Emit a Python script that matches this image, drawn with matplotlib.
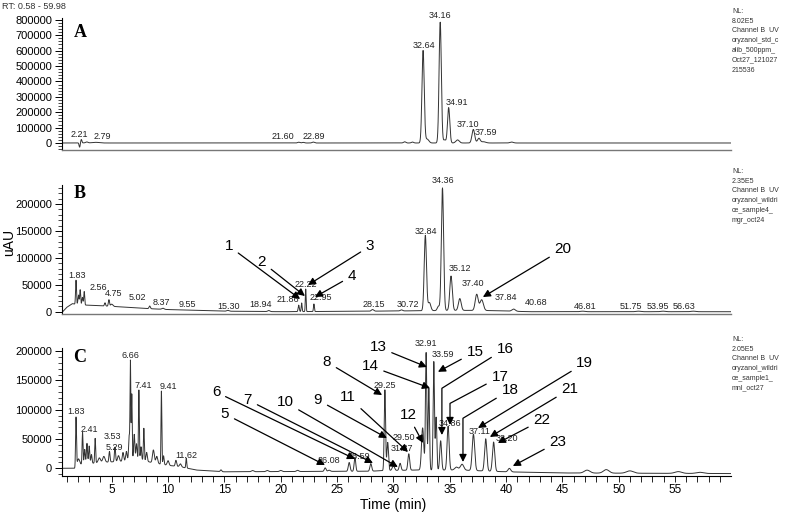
import numpy as np
import matplotlib.pyplot as plt
from matplotlib.ticker import MultipleLocator, FuncFormatter

plt.rcParams['font.family'] = ['Liberation Sans', 'DejaVu Sans']

t = np.linspace(0.58, 59.98, 9000)

# ---- panel A: oryzanol standard ----
a_rt = [2.15, 2.30, 2.79, 3.6, 21.60, 22.0, 22.89, 31.0, 31.7, 32.64, 33.0, 34.16,
        34.55, 34.91, 35.7, 37.10, 37.59, 38.0, 40.5]
a_height = [-28000, 22000, 6000, 4000, 5000, 4000, 6000, 8000, 6000, 600000, 25000, 785000,
            20000, 230000, 20000, 88000, 30000, 8000, 6000]
a_width = [0.05, 0.05, 0.1, 0.3, 0.1, 0.1, 0.1, 0.1, 0.1, 0.1, 0.15, 0.1,
           0.1, 0.1, 0.15, 0.12, 0.12, 0.2, 0.15]
a_base_t = [0.58, 2.0, 4.0, 59.98]
a_base_y = [0, 1000, 0, 0]
a_labels = ['2.21', '2.79', '21.60', '22.89', '32.64', '34.16', '34.91', '37.10', '37.59']
a_label_x = [2.1, 4.2, 20.2, 22.9, 32.7, 34.1, 35.65, 36.6, 38.2]
a_label_y = [52000, 39000, 39000, 39000, 636000, 831000, 266000, 123000, 65000]

# ---- panel B: wild rice sample 4 ----
b_rt = [1.83, 2.05, 2.2, 2.4, 2.56, 4.4, 4.75, 5.0, 8.37, 9.55, 15.30, 18.94, 21.6, 21.86,
        22.22, 22.95, 28.15, 30.72, 32.84, 33.2, 34.0, 34.36, 35.12, 35.9, 37.40, 37.84,
        40.68, 46.81, 51.75, 53.95, 56.63]
b_height = [45000, 18000, 28000, 14000, 25000, 6000, 12000, 4000, 5000, 2000, 1500, 2000, 12000, 16000,
            42000, 14000, 3000, 2000, 140000, 15000, 8000, 228000, 64000, 22000, 30000, 20000,
            4000, 1000, 1000, 1000, 1000]
b_width = [0.04, 0.05, 0.04, 0.05, 0.04, 0.05, 0.05, 0.1, 0.06, 0.1, 0.1, 0.1, 0.05, 0.04,
           0.035, 0.04, 0.1, 0.1, 0.1, 0.12, 0.1, 0.1, 0.11, 0.12, 0.13, 0.15,
           0.15, 0.2, 0.2, 0.2, 0.2]
b_base_t = [0.58, 1.0, 1.5, 2.0, 3.0, 5.0, 8.0, 10.0, 15.0, 20.0, 28.0, 31.0, 36.0, 39.0, 42.0, 59.98]
b_base_y = [-1500, 8000, 15000, 13000, 12000, 10000, 6000, 4000, 1000, 0, 1000, 1500, 2500, 2000, 0, 0]
b_labels = ['1.83', '2.56', '4.75', '5.02', '8.37', '9.55', '15.30', '18.94', '21.86', '22.22',
            '22.95', '28.15', '30.72', '32.84', '34.36', '35.12', '37.40', '37.84', '40.68',
            '46.81', '51.75', '53.95', '56.63']
b_label_x = [1.9, 3.85, 5.2, 7.3, 9.45, 11.7, 15.4, 18.2, 20.6, 22.2,
             23.6, 28.3, 31.3, 32.9, 34.4, 35.9, 37.1, 40.0, 42.7,
             47.0, 51.1, 53.5, 55.8]
b_label_y = [68200, 45900, 33000, 27000, 18000, 12500, 10600, 12500, 23600, 51500,
             27000, 12500, 14300, 150000, 244000, 79400, 53300, 27300, 16200,
             10600, 10600, 10600, 10600]
b_arrows = [('1', (15.41, 121900), (21.72, 23600)),
            ('2', (18.34, 92400), (22.15, 29200)),
            ('3', (27.93, 121900), (22.42, 49600)),
            ('4', (26.33, 66400), (23.04, 27300)),
            ('20', (45.06, 116500), (37.95, 27300))]

# ---- panel C: wild rice sample 1 ----
c_rt = [1.83, 2.05, 2.41, 2.6, 2.8, 3.0, 3.2, 3.53, 3.9, 4.3, 4.8, 5.29, 5.6, 6.0, 6.3, 6.55,
        6.66, 6.78, 7.0, 7.2, 7.41, 7.6, 7.85, 8.1, 8.7, 9.0, 9.41, 9.6, 10.0, 10.7, 11.1, 11.62,
        14.7, 17.5, 18.8, 20.0, 21.5, 23.95, 24.3, 26.08, 26.59, 28.0, 29.25, 29.50, 30.0, 30.6,
        31.37, 32.6, 32.91, 33.15, 33.59, 33.8, 34.2, 34.86, 35.6, 36.1, 37.11, 38.2, 38.9, 40.3,
        47.2, 48.9, 51.0, 55.3, 57.2]
c_height = [85000, 10000, 55000, 25000, 35000, 30000, 15000, 42000, 8000, 10000, 18000, 25000, 10000,
            15000, 15000, 40000, 165000, 110000, 40000, 25000, 118000, 22000, 55000, 15000, 22000, 12000,
            125000, 15000, 8000, 10000, 5000, 17000,
            3000, 2000, 2000, 2000, 2000, 6000, 2000, 15000, 24000, 13000, 138000, 48000, 8000, 12000,
            28000, 72000, 200000, 140000, 185000, 90000, 50000, 75000, 5000, 10000, 62000, 55000, 50000, 6000,
            5000, 6000, 4000, 3000, 2000]
c_width = [0.04, 0.1, 0.04, 0.05, 0.05, 0.05, 0.05, 0.04, 0.1, 0.1, 0.05, 0.05, 0.08, 0.06, 0.06, 0.05,
           0.035, 0.035, 0.05, 0.05, 0.035, 0.05, 0.04, 0.06, 0.08, 0.08, 0.035, 0.05, 0.08, 0.06, 0.08, 0.04,
           0.06, 0.1, 0.1, 0.1, 0.1, 0.08, 0.1, 0.08, 0.07, 0.08, 0.06, 0.07, 0.1, 0.08,
           0.08, 0.1, 0.06, 0.06, 0.06, 0.06, 0.08, 0.09, 0.15, 0.15, 0.11, 0.1, 0.1, 0.12,
           0.25, 0.25, 0.3, 0.3, 0.3]
c_base_t = [0.58, 1.75, 2.0, 4.0, 6.0, 7.0, 8.5, 10.0, 11.0, 12.5, 15.0, 28.0, 29.0, 32.0, 36.0, 40.0, 45.0, 59.98]
c_base_y = [0, 0, 6000, 10000, 12000, 18000, 10000, 5000, 3000, -3000, -6000, -5000, -4000, -3000, -3000,
            -6000, -8000, -9000]
c_labels = ['1.83', '2.41', '3.53', '5.29', '6.66', '7.41', '9.41', '11.62', '26.08', '26.59', '29.25',
            '29.50', '31.37', '32.91', '33.59', '34.86', '37.11', '38.20']
c_label_x = [1.83, 3.0, 5.1, 5.2, 6.7, 7.8, 10.0, 11.6, 24.3, 26.9, 29.25,
             30.9, 30.8, 32.9, 34.4, 35.0, 37.7, 40.1]
c_label_y = [97800, 65400, 53500, 36300, 193000, 140500, 139000, 21000, 12500, 19300, 142000,
             53400, 34600, 213500, 193600, 77300, 62000, 51700]
c_arrows = [('5', (15.05, 92700), (23.93, 5600)),
            ('6', (14.26, 130200), (26.59, 15900)),
            ('7', (17.09, 116600), (28.19, 9000)),
            ('10', (20.38, 113200), (30.4, 2200)),
            ('9', (23.31, 116600), (29.43, 51700)),
            ('8', (24.1, 181400), (29.0, 125100)),
            ('11', (26.0, 121700), (31.3, 27800)),
            ('12', (31.3, 91000), (32.63, 43200)),
            ('13', (28.63, 207000), (32.98, 172900)),
            ('14', (27.92, 174700), (33.25, 137000)),
            ('15', (37.25, 198800), (33.96, 164700)),
            ('19', (47.0, 179700), (37.51, 68800)),
            ('21', (45.67, 135300), (38.57, 53500)),
            ('22', (43.19, 82400), (39.28, 43200)),
            ('23', (44.61, 44900), (40.61, 3900))]
c_bent = [('16', (39.91, 203900), (34.31, 56800), -148),
          ('17', (39.46, 156100), (35.03, 74000), -152),
          ('18', (40.35, 133600), (36.18, 10800), -149)]


def trace(rt, height, width, base_t, base_y):
    y = np.interp(t, base_t, base_y)
    for r, h, w in zip(rt, height, width):
        y = y + h * np.exp(-0.5 * ((t - r) / w) ** 2)
    return y


def style(ax, ylim, major, minor, show_x):
    ax.set_xlim(0.58, 59.98)
    ax.set_ylim(*ylim)
    ax.spines['top'].set_visible(False)
    ax.spines['right'].set_visible(False)
    ax.spines['left'].set_linewidth(0.8)
    ax.yaxis.set_major_locator(MultipleLocator(major))
    ax.yaxis.set_minor_locator(MultipleLocator(minor))
    ax.yaxis.set_major_formatter(FuncFormatter(lambda v, p: '%d' % v))
    ax.tick_params(axis='y', which='major', length=5, width=0.7, labelsize=8, pad=2)
    ax.tick_params(axis='y', which='minor', length=3, width=0.5)
    if show_x:
        ax.xaxis.set_major_locator(MultipleLocator(5))
        ax.xaxis.set_minor_locator(MultipleLocator(1))
        ax.tick_params(axis='x', which='both', length=4, width=0.6, labelsize=8.5, pad=2)
        ax.spines['bottom'].set_linewidth(0.8)
    else:
        ax.tick_params(axis='x', which='both', bottom=False, labelbottom=False)
        ax.spines['bottom'].set_color('#777777')
        ax.spines['bottom'].set_linewidth(1.0)


def peak_labels(ax, labels, xs, ys):
    for s, x, y in zip(labels, xs, ys):
        ax.text(x, y, s, fontsize=6.5, ha='center', va='center', color='#222222')


def arrows(ax, items):
    for s, xt, xy in items:
        ax.annotate(s, xy=xy, xytext=xt, fontsize=11, ha='center', va='center',
                    arrowprops=dict(arrowstyle='-|>', color='black', lw=0.9,
                                    mutation_scale=11, shrinkA=2, shrinkB=0))


fig = plt.figure(figsize=(7.93, 5.12), dpi=100)
left, width = 0.0781, 0.8438
axA = fig.add_axes([left, 0.7072, width, 0.2570])
axB = fig.add_axes([left, 0.3870, width, 0.2511])
axC = fig.add_axes([left, 0.0705, width, 0.2494])

line_kw = dict(color='#333333', lw=0.7)

axA.plot(t, trace(a_rt, a_height, a_width, a_base_t, a_base_y), **line_kw)
style(axA, (-45000, 810000), 100000, 20000, False)
peak_labels(axA, a_labels, a_label_x, a_label_y)

axB.plot(t, trace(b_rt, b_height, b_width, b_base_t, b_base_y), **line_kw)
style(axB, (-4000, 235000), 50000, 10000, False)
peak_labels(axB, b_labels, b_label_x, b_label_y)
arrows(axB, b_arrows)

axC.plot(t, trace(c_rt, c_height, c_width, c_base_t, c_base_y), **line_kw)
style(axC, (-13000, 205000), 50000, 10000, True)
peak_labels(axC, c_labels, c_label_x, c_label_y)
arrows(axC, c_arrows)
for s, xt, xy, ang in c_bent:
    axC.annotate(s, xy=xy, xytext=xt, fontsize=11, ha='center', va='center',
                 arrowprops=dict(arrowstyle='-|>', color='black', lw=0.9, mutation_scale=11,
                                 shrinkA=2, shrinkB=0,
                                 connectionstyle='angle,angleA=%d,angleB=90,rad=0' % ang))

for ax, letter, yf in [(axA, 'A', 0.894), (axB, 'B', 0.938), (axC, 'C', 0.93)]:
    ax.text(0.027, yf, letter, transform=ax.transAxes, fontsize=13, fontweight='bold',
            family='Liberation Serif', ha='center', va='center')

nl_a = 'NL:\n8.02E5\nChannel B  UV\noryzanol_std_c\nalib_500ppm_\nOct27_121027\n215536'
nl_b = 'NL:\n2.35E5\nChannel B  UV\noryzanol_wildri\nce_sample4_\nmgr_oct24'
nl_c = 'NL:\n2.05E5\nChannel B  UV\noryzanol_wildri\nce_sample1_\nmnl_oct27'
for txt, ytop in [(nl_a, 8), (nl_b, 168), (nl_c, 336)]:
    fig.text(0.923, 1 - ytop / 512, txt, fontsize=5, va='top', ha='left',
             color='#333333', linespacing=1.55)

fig.text(0.003, 0.988, 'RT: 0.58 - 59.98', fontsize=6.5, va='center', ha='left', color='#333333')
fig.text(0.011, 0.527, 'uAU', rotation=90, fontsize=10, va='center', ha='center')
fig.text(0.496, 0.013, 'Time (min)', fontsize=10, va='center', ha='center')

fig.savefig('out.png', dpi=100)
